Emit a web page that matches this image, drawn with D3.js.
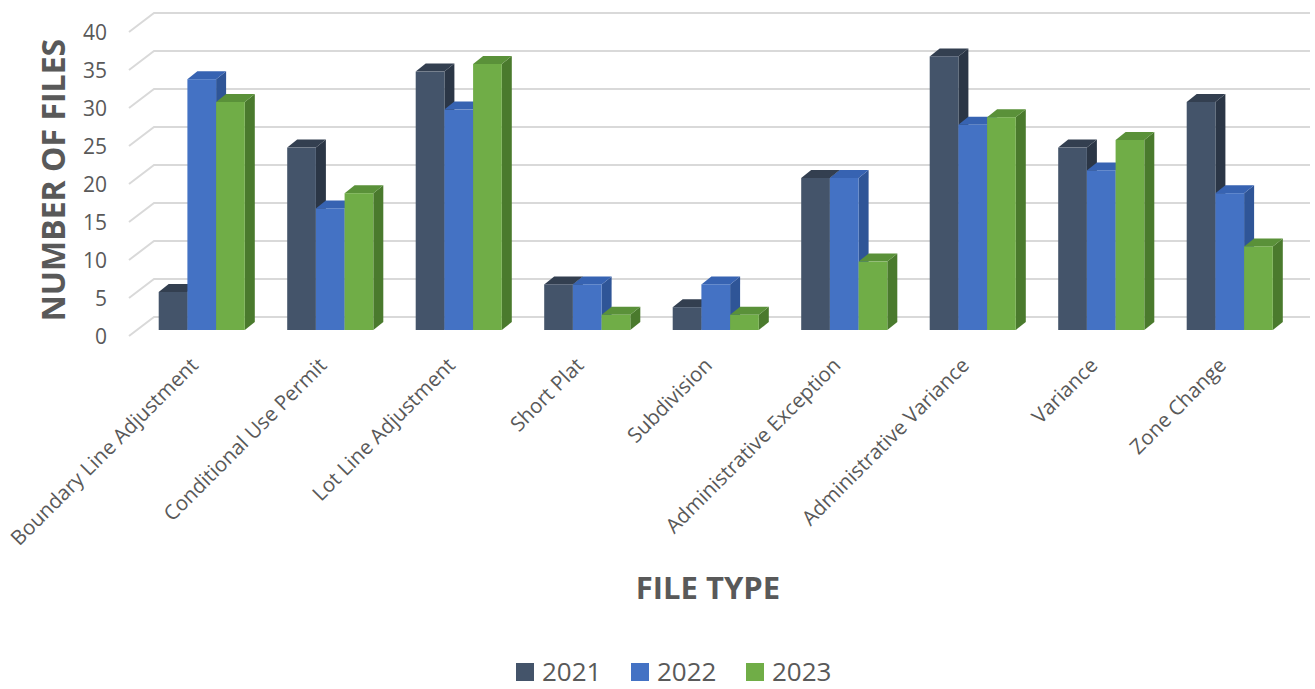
<!DOCTYPE html>
<html>
<head>
<meta charset="utf-8">
<style>
  * { margin: 0; padding: 0; box-sizing: border-box; }
  body { background: #fff; font-family: "Open Sans", sans-serif; }
  svg { display: block; }
</style>
</head>
<body>
<div id="chart"></div>
<script src="https://cdn.jsdelivr.net/npm/d3@7"></script>
<script>
const categories = ['Boundary Line Adjustment', 'Conditional Use Permit', 'Lot Line Adjustment', 'Short Plat',
  'Subdivision', 'Administrative Exception', 'Administrative Variance', 'Variance', 'Zone Change'];
const years = ['2021', '2022', '2023'];
const values2021 = [5, 24, 34, 6, 3, 20, 36, 24, 30];
const values2022 = [33, 16, 29, 6, 6, 20, 27, 21, 18];
const values2023 = [30, 18, 35, 2, 2, 9, 28, 25, 11];
const yTicks = [0, 5, 10, 15, 20, 25, 30, 35, 40];

(function() {
  const width = 1315, height = 689;
  const series = [values2021, values2022, values2023];
  const front = ['#44546A', '#4472C4', '#70AD47'];
  const side = ['#2B3646', '#2F5597', '#4A7A2D'];
  const top = ['#333F50', '#3763B2', '#5A9139'];

  // 3D offsets
  const dx = 10, dy = 8;       // bar depth
  const wx = 25, wy = 19;      // wall depth (front-left to back gridline)

  const x = d3.scaleBand().domain(categories).range([137.5, 1294]).paddingInner(0.33).paddingOuter(0.165);
  const xs = d3.scaleBand().domain(years).range([0, x.bandwidth()]);
  // bar front face baseline
  const yBar = d3.scaleLinear().domain([0, 40]).range([330, 26]);
  // back wall gridlines
  const yBack = d3.scaleLinear().domain([0, 40]).range([317, 13]);

  const svg = d3.select('#chart').append('svg')
    .attr('width', width).attr('height', height);

  // gridlines
  const grid = svg.append('g');
  yTicks.forEach(function(t) {
    const yb = yBack(t);
    grid.append('path')
      .attr('d', 'M' + (154 - wx) + ',' + (yb + wy) + 'L154,' + yb + 'L1310,' + yb)
      .attr('fill', 'none').attr('stroke', '#d9d9d9').attr('stroke-width', 2);
  });

  // y tick labels
  svg.append('g').selectAll('text').data(yTicks).join('text')
    .attr('x', 107).attr('y', function(d) { return yBack(d) + wy; })
    .attr('text-anchor', 'end').attr('dominant-baseline', 'central')
    .attr('font-size', 21).attr('fill', '#595959')
    .text(function(d) { return d; });

  // bars
  const bars = svg.append('g');
  categories.forEach(function(c, i) {
    years.forEach(function(yr, j) {
      const v = series[j][i];
      const x0 = x(c) + xs(yr), x1 = x0 + xs.bandwidth();
      const yt = yBar(v), y0 = yBar(0);
      const g = bars.append('g');
      g.append('path')
        .attr('d', 'M' + x1 + ',' + yt + 'L' + (x1 + dx) + ',' + (yt - dy) + 'L' + (x1 + dx) + ',' + (y0 - dy) + 'L' + x1 + ',' + y0 + 'Z')
        .attr('fill', side[j]);
      g.append('path')
        .attr('d', 'M' + x0 + ',' + yt + 'L' + (x0 + dx) + ',' + (yt - dy) + 'L' + (x1 + dx) + ',' + (yt - dy) + 'L' + x1 + ',' + yt + 'Z')
        .attr('fill', top[j]);
      g.append('rect')
        .attr('x', x0).attr('y', yt).attr('width', x1 - x0).attr('height', y0 - yt)
        .attr('fill', front[j]);
    });
  });

  // category labels
  svg.append('g').selectAll('text').data(categories).join('text')
    .attr('transform', function(d) {
      return 'translate(' + (x(d) + x.bandwidth() / 2 - 8) + ',' + 361 + ') rotate(-45)';
    })
    .attr('text-anchor', 'end').attr('dominant-baseline', 'central')
    .attr('font-size', 20.5).attr('fill', '#595959')
    .text(function(d) { return d; });

  // axis titles
  svg.append('text')
    .attr('transform', 'translate(52,180) rotate(-90)')
    .attr('text-anchor', 'middle').attr('dominant-baseline', 'central')
    .attr('font-size', 32).attr('font-weight', 'bold').attr('fill', '#595959')
    .text('NUMBER OF FILES');
  svg.append('text')
    .attr('x', 708).attr('y', 587)
    .attr('text-anchor', 'middle').attr('dominant-baseline', 'central')
    .attr('font-size', 31).attr('font-weight', 'bold').attr('fill', '#595959')
    .text('FILE TYPE');

  // legend
  const legendX = [516, 631, 746];
  const legend = svg.append('g');
  years.forEach(function(yr, j) {
    legend.append('rect')
      .attr('x', legendX[j]).attr('y', 663).attr('width', 18).attr('height', 18)
      .attr('fill', front[j]);
    legend.append('text')
      .attr('x', legendX[j] + 26).attr('y', 671)
      .attr('dominant-baseline', 'central')
      .attr('font-size', 26).attr('fill', '#595959')
      .text(yr);
  });
})();
</script>
</body>
</html>
